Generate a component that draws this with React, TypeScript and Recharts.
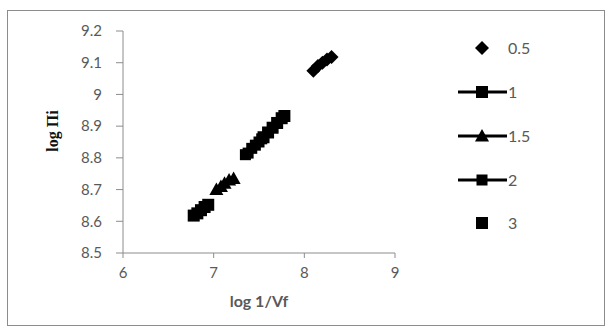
import { ScatterChart, Scatter, XAxis, YAxis } from "recharts";

const xTicks = [6, 7, 8, 9];
const yTicks = [8.5, 8.6, 8.7, 8.8, 8.9, 9, 9.1, 9.2];

const legendNames = ["0.5", "1", "1.5", "2", "3"];

const s05X = [8.1, 8.15, 8.2, 8.25, 8.3];
const s05Y = [9.075, 9.09, 9.1, 9.11, 9.118];

const s1X = [7.55, 7.6, 7.65, 7.7, 7.75, 7.78];
const s1Y = [8.865, 8.88, 8.895, 8.91, 8.925, 8.932];

const s15X = [7.03, 7.08, 7.12, 7.17, 7.22];
const s15Y = [8.7, 8.71, 8.72, 8.73, 8.735];

const s2X = [7.35, 7.38, 7.42, 7.46, 7.5, 7.53];
const s2Y = [8.81, 8.815, 8.83, 8.84, 8.85, 8.86];

const s3X = [6.78, 6.82, 6.86, 6.9, 6.94];
const s3Y = [8.618, 8.625, 8.635, 8.645, 8.652];

const zip = (xs: number[], ys: number[]) => xs.map((x, i) => ({ x, y: ys[i] }));

const FONT = "Lato, 'Liberation Sans', sans-serif";
const GRAY = "#595959";

const Diamond = (p: any) => (
  <polygon
    points={`${p.cx},${p.cy - 7} ${p.cx + 7},${p.cy} ${p.cx},${p.cy + 7} ${p.cx - 7},${p.cy}`}
    fill="#000"
  />
);
const Square = (p: any) => <rect x={p.cx - 6} y={p.cy - 6} width={12} height={12} fill="#000" />;
const SmallSquare = (p: any) => <rect x={p.cx - 5.5} y={p.cy - 5.5} width={11} height={11} fill="#000" />;
const Triangle = (p: any) => (
  <polygon points={`${p.cx},${p.cy - 7} ${p.cx + 7},${p.cy + 5.5} ${p.cx - 7},${p.cy + 5.5}`} fill="#000" />
);

// legend drawn by hand, outside the chart so it doesn't eat plot space
function LegendBox() {
  const rows = [48, 92, 136, 180, 223];
  return (
    <svg width={140} height={240} style={{ position: "absolute", left: 440, top: 0 }}>
      {rows.map((cy, i) => {
        const mx = 42;
        return (
          <g key={i}>
            {(i === 1 || i === 2 || i === 3) && (
              <line x1={mx - 24} x2={mx + 25} y1={cy} y2={cy} stroke="#000" strokeWidth={3} />
            )}
            {i === 0 && Diamond({ cx: mx, cy })}
            {i === 1 && Square({ cx: mx, cy })}
            {i === 2 && Triangle({ cx: mx, cy })}
            {i === 3 && SmallSquare({ cx: mx, cy })}
            {i === 4 && Square({ cx: mx, cy })}
            <text x={68} y={cy + 5.5} fontSize={16} fill={GRAY} fontFamily={FONT}>
              {legendNames[i]}
            </text>
          </g>
        );
      })}
    </svg>
  );
}

export default function App() {
  return (
    <div style={{ position: "absolute", left: 0, top: 0, width: 612, height: 329, background: "#fff" }}>
      <div
        style={{
          position: "absolute",
          left: 7,
          top: 10,
          width: 596,
          height: 314,
          border: "1px solid #8c8c8c",
        }}
      />
      <div style={{ position: "absolute", left: 0, top: 0 }}>
        <ScatterChart width={612} height={329} margin={{ top: 31, right: 217, bottom: 0, left: 0 }}>
          <XAxis
            type="number"
            dataKey="x"
            domain={[6, 9]}
            ticks={xTicks}
            height={76}
            tickSize={5}
            tickMargin={9}
            stroke="#8c8c8c"
            tick={{ fill: GRAY, fontSize: 15, fontFamily: FONT }}
            label={{
              content: () => (
                <text x={259} y={307} textAnchor="middle" fontSize={16} fontWeight="bold" fill={GRAY} fontFamily={FONT}>
                  log 1/Vf
                </text>
              ),
            }}
          />
          <YAxis
            type="number"
            dataKey="y"
            domain={[8.5, 9.2]}
            ticks={yTicks}
            width={123}
            tickSize={7}
            tickMargin={14}
            stroke="#8c8c8c"
            tick={{ fill: GRAY, fontSize: 15, fontFamily: FONT }}
            label={{
              content: () => (
                <text
                  x={58}
                  y={131}
                  transform="rotate(-90 58 131)"
                  textAnchor="middle"
                  fontSize={16}
                  fontWeight="bold"
                  fill="#111"
                  fontFamily="'Liberation Serif', serif"
                >
                  log Πi
                </text>
              ),
            }}
          />
          <Scatter name="0.5" data={zip(s05X, s05Y)} shape={Diamond} isAnimationActive={false} />
          <Scatter
            name="1"
            data={zip(s1X, s1Y)}
            shape={Square}
            line={{ stroke: "#000", strokeWidth: 2.5 }}
            isAnimationActive={false}
          />
          <Scatter
            name="1.5"
            data={zip(s15X, s15Y)}
            shape={Triangle}
            line={{ stroke: "#000", strokeWidth: 2.5 }}
            isAnimationActive={false}
          />
          <Scatter
            name="2"
            data={zip(s2X, s2Y)}
            shape={SmallSquare}
            line={{ stroke: "#000", strokeWidth: 2.5 }}
            isAnimationActive={false}
          />
          <Scatter name="3" data={zip(s3X, s3Y)} shape={Square} isAnimationActive={false} />
        </ScatterChart>
      </div>
      <LegendBox />
    </div>
  );
}
